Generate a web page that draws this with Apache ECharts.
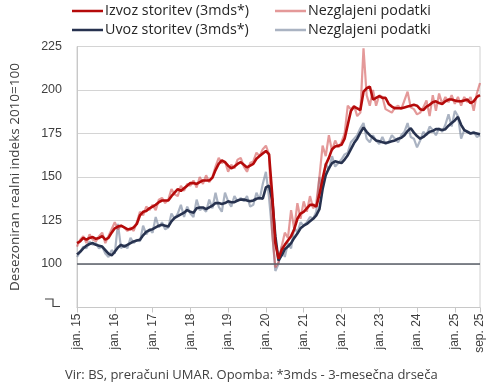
<!DOCTYPE html>
<html>
<head>
<meta charset="utf-8">
<script src="https://cdn.jsdelivr.net/npm/echarts@6/dist/echarts.min.js"></script>
<style>
html,body{margin:0;padding:0;background:#fff;}
#chart{width:490px;height:388px;}
</style>
</head>
<body>
<div id="chart"></div>
<script>
// Month labels and years (jan. 2015 – sep. 2025)
var monthNames = ['jan.','feb.','mar.','apr.','maj','jun.','jul.','avg.','sep.','okt.','nov.','dec.'];
var years = ['15','16','17','18','19','20','21','22','23','24','25'];
var lastMonthIndex = 8; // sep. 25

// Export of services, 3-month moving average
var izvoz3mds = [
  112, 113, 115, 114, 115, 115.5, 114.5, 115, 116, 114, 115, 118,
  120.5, 121.5, 122, 121, 120, 120, 121, 123, 128, 130, 130.5, 132,
  133, 134, 135.5, 136.5, 136.5, 136.5, 139, 141, 143, 142, 143.5, 145,
  146.5, 146.5, 146, 147, 148, 148, 148, 149.5, 154, 157.5, 159.5, 158.5,
  156.5, 155, 156, 157.5, 158.5, 157, 155.5, 156.5, 157.5, 160.5, 162, 163.5,
  165, 163, 140, 112, 103, 108, 111, 113.5, 116, 120, 126, 129,
  130, 132, 134, 134, 133, 140, 149, 157, 161, 166, 167.5, 168,
  168.5, 172, 180, 188, 190.5, 189.5, 188.5, 199, 201, 202, 194.5, 195.5,
  196.5, 195.5, 195.5, 192, 190.5, 189.5, 189.5, 189.5, 190, 190.5, 191, 191.5,
  191, 189, 188.5, 190.5, 191.5, 193, 193.5, 192.5, 192, 193.5, 194.5, 194.5,
  194, 193.5, 193.5, 194, 194.5, 192.5, 193.5, 196, 197
];
// Export of services, unsmoothed
var izvozRaw = [
  110, 114, 116, 112, 117, 114, 113, 116, 118, 112, 116, 120,
  124, 120, 122, 121, 119, 121, 119, 124, 130, 128, 133, 131,
  134, 131, 137, 138, 135, 137, 143, 140, 139, 145, 142, 146,
  145, 148, 144, 150, 146, 151, 147, 150, 156, 161, 158, 159,
  153, 157, 155, 160, 161, 156, 153, 158, 159, 164, 162, 166,
  168, 163, 118, 98, 101, 110, 118, 115, 131, 120, 135, 126,
  136, 130, 139, 132, 135, 150, 168, 162, 174, 165, 171, 167,
  170, 175, 191, 189, 191, 185, 187, 224, 197, 191, 200, 191,
  197, 196, 189, 188, 187, 190, 191, 189, 194, 199, 190, 189,
  186, 187, 190, 194, 185, 197, 188, 198, 192, 196, 193, 197,
  192, 196, 191, 196, 193, 196, 188, 198, 204
];
// Import of services, 3-month moving average
var uvoz3mds = [
  105.5, 107, 109, 110.5, 111.5, 112, 111, 110.5, 110, 108, 106, 105,
  107, 109.5, 111, 110, 111, 112, 113, 113.5, 114, 116.5, 118.5, 119.5,
  120, 121, 122, 122.5, 122, 121.5, 124.5, 126.5, 127.5, 128.5, 129.5, 131,
  130, 129.5, 132, 132.5, 132.5, 131.5, 132.5, 133.5, 135, 135, 134.5, 135,
  136, 135.5, 135.5, 136.5, 137, 137, 136.5, 136, 136.5, 137.5, 138, 137.5,
  144, 145, 137, 116, 102, 105, 108.5, 110, 112, 115, 117.5, 120.5,
  122, 123, 124.5, 126, 128, 131.5, 143, 151, 155, 158, 159, 158.5,
  158, 160, 162.5, 166, 169.5, 172, 175.5, 178.5, 176, 174, 172.5, 171,
  170.5, 170, 169.5, 170, 170.5, 171, 172, 172.5, 174, 176.5, 178, 175.5,
  173.5, 172, 173, 174.5, 176, 176.5, 177.5, 177.5, 177, 177.5, 179.5, 181,
  182.5, 184.5, 180, 177, 176, 175, 175.5, 175, 174.5
];
// Import of services, unsmoothed
var uvozRaw = [
  104, 107, 110, 109, 113, 111, 112, 109, 110, 106, 104, 108,
  106, 123, 109, 111, 109, 115, 112, 114, 113, 122, 117, 120,
  118, 127, 121, 124, 120, 121, 129, 126, 129, 134, 127, 133,
  129, 127, 137, 131, 132, 130, 137, 132, 141, 133, 130, 141,
  136, 133, 139, 136, 138, 136, 139, 133, 134, 141, 137, 146,
  153, 138, 118, 96, 100, 110, 104, 112, 109, 121, 118, 124,
  122, 124, 127, 126, 130, 150, 143, 158, 154, 162, 156, 158,
  160, 163, 164, 170, 172, 174, 178, 181, 172, 170, 174, 171,
  169, 173, 169, 170, 174, 172, 170, 174, 176, 181, 173, 172,
  167, 171, 176, 174, 179, 177, 174, 178, 176, 180, 186, 179,
  188, 185, 172, 177, 176, 175, 176, 173, 174
];
var baseline = 100;
var yTicks = [75, 225, 25]; // min, max, interval

var legendNames = {
  izvoz: 'Izvoz storitev (3mds*)',
  izvozRaw: 'Nezglajeni podatki',
  uvoz: 'Uvoz storitev (3mds*)',
  uvozRaw: 'Nezglajeni podatki'
};
var footer = 'Vir: BS, preračuni UMAR. Opomba: *3mds - 3-mesečna drseča';
var yName = 'Desezoniran realni indeks 2010=100';

var categories = [];
for (var y = 0; y < years.length; y++) {
  for (var m = 0; m < 12; m++) {
    if (y === years.length - 1 && m > lastMonthIndex) break;
    categories.push(monthNames[m] + ' ' + years[y]);
  }
}
var lastIdx = categories.length - 1;
function showTick(i) { return i % 12 === 0 || i === lastIdx; }

var FONT = 'Liberation Sans, Arial, sans-serif';
var FONT2 = 'Open Sans, Liberation Sans, sans-serif';
var txt = '#404040';

function legendAt(name, left, top) {
  return {
    data: [name], left: left, top: top, padding: 0,
    icon: 'rect', itemWidth: 31, itemHeight: 2.5, itemGap: 0,
    selectedMode: false,
    formatter: function (n) { return legendNames[n]; },
    textStyle: { fontFamily: FONT2, fontSize: 14.3, color: '#262626', padding: [0, 0, 0, -3] }
  };
}

var chart = echarts.init(document.getElementById('chart'), null, { renderer: 'canvas' });
chart.setOption({
  animation: false,
  backgroundColor: '#ffffff',
  legend: [
    legendAt('izvoz', 72, 4),
    legendAt('izvozRaw', 275, 4),
    legendAt('uvoz', 72, 23),
    legendAt('uvozRaw', 275, 23)
  ],
  grid: {
    left: 72, right: 10, top: 46.5, bottom: 80.5,
    show: true, borderColor: '#D0D0D0', borderWidth: 1, containLabel: false
  },
  xAxis: {
    type: 'category', data: categories, boundaryGap: false,
    axisLine: { show: true, lineStyle: { color: '#C8C8C8', width: 1 } },
    axisTick: { show: true, interval: function (i) { return showTick(i); }, length: 5, lineStyle: { color: '#C8C8C8' } },
    axisLabel: {
      interval: function (i) { return showTick(i); },
      rotate: 90, margin: 6, fontFamily: FONT, fontSize: 12, color: txt
    },
    splitLine: { show: false }
  },
  yAxis: {
    type: 'value', min: yTicks[0], max: yTicks[1], interval: yTicks[2],
    name: yName, nameLocation: 'middle', nameGap: 55, nameRotate: 90,
    nameTextStyle: { fontFamily: FONT2, fontSize: 13.5, color: txt },
    axisLine: { show: true, lineStyle: { color: '#C8C8C8' } },
    axisTick: { show: false },
    axisLabel: {
      margin: 15, fontFamily: FONT, fontSize: 12.5, color: txt,
      formatter: function (v) { return v === yTicks[0] ? '' : String(v); }
    },
    splitLine: { show: true, lineStyle: { color: '#D4D4D4', width: 1 } }
  },
  series: [
    { name: 'uvozRaw', type: 'line', data: uvozRaw, symbol: 'none', color: 'rgba(125,138,162,0.65)',
      lineStyle: { width: 2.2 }, z: 2,
      markLine: { silent: true, symbol: 'none', label: { show: false },
        lineStyle: { color: '#5A5F68', width: 1.5, type: 'solid' },
        data: [{ yAxis: baseline }] } },
    { name: 'izvozRaw', type: 'line', data: izvozRaw, symbol: 'none', color: 'rgba(205,70,70,0.55)',
      lineStyle: { width: 2.2 }, z: 3 },
    { name: 'uvoz', type: 'line', data: uvoz3mds, symbol: 'none', color: '#27324F',
      lineStyle: { width: 2.6 }, z: 4 },
    { name: 'izvoz', type: 'line', data: izvoz3mds, symbol: 'none', color: '#B50A0A',
      lineStyle: { width: 2.6 }, z: 5 }
  ],
  graphic: [
    { type: 'polyline', silent: true,
      shape: { points: [[45, 299], [53, 299], [53, 306.5], [60, 306.5]] },
      style: { stroke: '#404040', lineWidth: 1.2, fill: null } },
    { type: 'text', left: 65, top: 369,
      style: { text: footer, font: '13px ' + FONT2, fill: txt } }
  ]
});
</script>
</body>
</html>
